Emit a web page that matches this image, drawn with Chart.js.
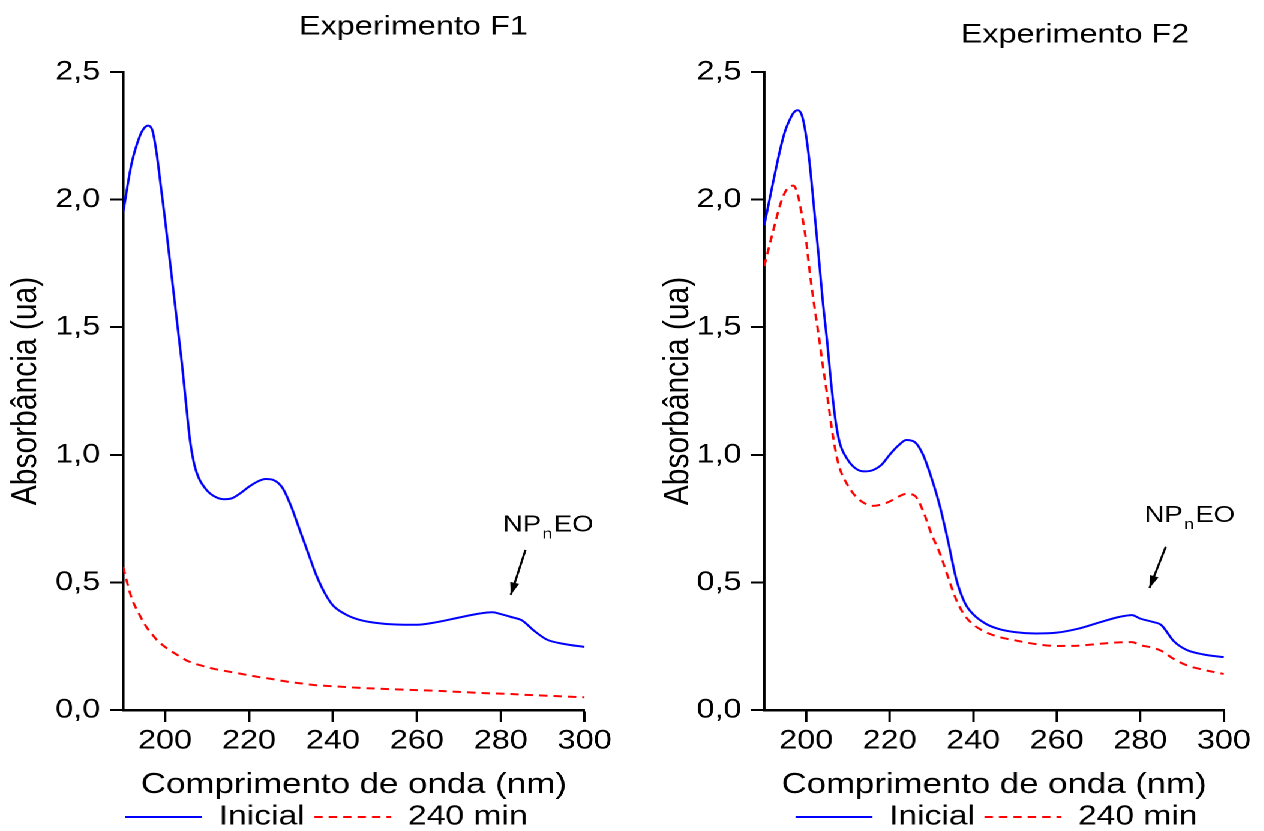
<!DOCTYPE html>
<html lang="pt">
<head>
<meta charset="utf-8">
<title>Espectros UV - Experimentos F1 e F2</title>
<script src="https://cdn.jsdelivr.net/npm/chart.js@4.4.1/dist/chart.umd.min.js"></script>
<style>
  html, body { margin: 0; padding: 0; background: #fff; overflow: hidden; }
  /* the source figure is stretched sideways, so the charts are drawn narrow and widened */
  #wrap { position: absolute; left: 0; top: 0; height: 831px; display: flex; transform-origin: 0 0; }
  .panel { position: relative; height: 831px; }
</style>
</head>
<body>
<div id="wrap">
  <div class="panel"><canvas id="f1"></canvas></div>
  <div class="panel"><canvas id="f2"></canvas></div>
</div>
<script>
const wavelengths = [190, 192, 194, 195, 196, 197, 198, 199, 200, 201, 202, 203, 204, 205, 206, 207, 208,
  210, 212, 214, 216, 218, 220, 222, 224, 226, 228, 230, 232, 234, 236, 238, 240,
  243, 246, 250, 255, 260, 265, 270, 275, 278, 280, 283, 285, 288, 291, 295, 300]

const f1Inicial = [1.95, 2.14, 2.25, 2.28, 2.29, 2.27, 2.18, 2.05, 1.92, 1.78, 1.64, 1.50, 1.36, 1.20, 1.05, 0.96, 0.91,
  0.86, 0.835, 0.826, 0.83, 0.85, 0.875, 0.895, 0.905, 0.90, 0.87, 0.80, 0.71, 0.62, 0.53, 0.46, 0.41,
  0.375, 0.355, 0.342, 0.335, 0.334, 0.345, 0.362, 0.378, 0.383, 0.376, 0.362, 0.352, 0.31, 0.276, 0.259, 0.247]
const f1Min240 = [0.56, 0.44, 0.37, 0.34, 0.315, 0.295, 0.275, 0.26, 0.247, 0.235, 0.225, 0.215, 0.205, 0.195, 0.188, 0.182, 0.177,
  0.168, 0.16, 0.154, 0.148, 0.142, 0.136, 0.13, 0.125, 0.12, 0.114, 0.109, 0.105, 0.101, 0.097, 0.095, 0.093,
  0.09, 0.087, 0.084, 0.081, 0.078, 0.075, 0.071, 0.067, 0.065, 0.064, 0.062, 0.06, 0.058, 0.056, 0.053, 0.05]

const f2Inicial = [1.90, 2.06, 2.21, 2.27, 2.31, 2.34, 2.35, 2.33, 2.25, 2.12, 1.95, 1.78, 1.60, 1.45, 1.28, 1.14, 1.05,
  0.98, 0.945, 0.935, 0.94, 0.96, 1.0, 1.035, 1.058, 1.05, 1.0, 0.91, 0.80, 0.66, 0.51, 0.42, 0.375,
  0.338, 0.318, 0.305, 0.30, 0.303, 0.318, 0.342, 0.365, 0.372, 0.358, 0.345, 0.333, 0.27, 0.236, 0.218, 0.207]
const f2Min240 = [1.74, 1.87, 1.99, 2.03, 2.05, 2.055, 2.02, 1.94, 1.84, 1.70, 1.58, 1.47, 1.35, 1.24, 1.12, 1.02, 0.95,
  0.88, 0.835, 0.81, 0.80, 0.805, 0.817, 0.835, 0.847, 0.84, 0.78, 0.69, 0.615, 0.52, 0.43, 0.37, 0.335,
  0.305, 0.287, 0.273, 0.258, 0.251, 0.252, 0.259, 0.265, 0.266, 0.254, 0.244, 0.232, 0.2, 0.176, 0.158, 0.141]

const seriesNames = ['Inicial', '240 min']
const xTicks = [200, 220, 240, 260, 280, 300]
const yTicks = [0, 0.5, 1, 1.5, 2, 2.5]

const SX = 1.2
const PANEL_W = 632 / SX
const FONT = '"Liberation Sans", Arial, Helvetica, sans-serif'

document.getElementById('wrap').style.width = (2 * PANEL_W) + 'px'
document.getElementById('wrap').style.transform = 'scaleX(' + SX + ')'
document.querySelectorAll('.panel').forEach(p => { p.style.width = PANEL_W + 'px' })

Chart.defaults.font.family = FONT
Chart.defaults.color = '#000'

// moves title and legend to where the figure has them
const placeBoxes = {
  id: 'placeBoxes',
  afterLayout (chart, args, o) {
    const move = (box, cx, top) => {
      if (!box) return
      const dx = cx - (box.left + box.right) / 2
      box.left += dx
      box.right += dx
      if (top != null) {
        const dy = top - box.top
        box.top += dy
        box.bottom += dy
      }
    }
    move(chart.titleBlock, o.titleX)
    move(chart.legend, o.legendX, o.legendTop)
  }
}

// NPnEO label with its arrow
const marker = {
  id: 'marker',
  afterDatasetsDraw (chart, args, o) {
    const { ctx, scales: { x, y } } = chart
    const tx = x.getPixelForValue(o.text[0])
    const ty = y.getPixelForValue(o.text[1])
    ctx.save()
    ctx.fillStyle = '#000'
    ctx.textAlign = 'left'
    ctx.textBaseline = 'alphabetic'
    ctx.font = '23px ' + FONT
    ctx.fillText('NP', tx, ty)
    let w = ctx.measureText('NP').width + 1
    ctx.font = '15px ' + FONT
    ctx.fillText('n', tx + w, ty + 7)
    w += ctx.measureText('n').width + 1
    ctx.font = '23px ' + FONT
    ctx.fillText('EO', tx + w, ty)

    const x0 = x.getPixelForValue(o.from[0])
    const y0 = y.getPixelForValue(o.from[1])
    const x1 = x.getPixelForValue(o.to[0])
    const y1 = y.getPixelForValue(o.to[1])
    ctx.strokeStyle = '#000'
    ctx.lineWidth = 1.8
    ctx.beginPath()
    ctx.moveTo(x0, y0)
    ctx.lineTo(x1, y1)
    ctx.stroke()
    const a = Math.atan2(y1 - y0, x1 - x0)
    const L = 13
    ctx.beginPath()
    ctx.moveTo(x1, y1)
    ctx.lineTo(x1 - L * Math.cos(a - 0.3), y1 - L * Math.sin(a - 0.3))
    ctx.lineTo(x1 - L * Math.cos(a + 0.3), y1 - L * Math.sin(a + 0.3))
    ctx.closePath()
    ctx.fill()
    ctx.restore()
  }
}

function points (ys) {
  return wavelengths.map((w, i) => ({ x: w, y: ys[i] }))
}

// legend entries drawn as short line samples, dashed like their series
function lineLabels (chart) {
  return Chart.defaults.plugins.legend.labels.generateLabels(chart).map(item => {
    const ds = chart.data.datasets[item.datasetIndex]
    return { ...item, strokeStyle: ds.borderColor, lineWidth: ds.borderWidth, lineDash: ds.borderDash || [] }
  })
}

// p holds page positions (px) taken from the figure
function makeChart (id, title, inicial, min240, p) {
  const inner = v => (v - p.offset) / SX
  const left = inner(p.left)
  const padRight = PANEL_W - inner(p.right)
  const titleTop = p.titleY - 16.2

  return new Chart(document.getElementById(id), {
    type: 'line',
    data: {
      datasets: [
        {
          label: seriesNames[0],
          data: points(inicial),
          borderColor: '#0000ff',
          borderWidth: 2,
          pointRadius: 0,
          cubicInterpolationMode: 'monotone'
        },
        {
          label: seriesNames[1],
          data: points(min240),
          borderColor: '#ff0000',
          borderWidth: 2,
          borderDash: [7, 5],
          pointRadius: 0,
          cubicInterpolationMode: 'monotone'
        }
      ]
    },
    options: {
      responsive: true,
      maintainAspectRatio: false,
      animation: false,
      devicePixelRatio: 2,
      layout: { padding: { left: 0, right: padRight, top: 0, bottom: 0 } },
      scales: {
        x: {
          type: 'linear',
          min: 190,
          max: 300,
          afterBuildTicks: s => { s.ticks = xTicks.map(v => ({ value: v })) },
          afterFit: s => { s.height = 75 },
          grid: { drawOnChartArea: false, tickLength: 12, tickColor: '#000', tickWidth: 2 },
          border: { color: '#000', width: 2.5 },
          ticks: { font: { size: 27 }, color: '#000', padding: 3, maxRotation: 0 },
          title: {
            display: true,
            text: 'Comprimento de onda (nm)',
            font: { size: 29 },
            color: '#000',
            padding: { top: 0, bottom: -17.4 }
          }
        },
        y: {
          min: 0,
          max: 2.5,
          afterBuildTicks: s => { s.ticks = yTicks.map(v => ({ value: v })) },
          afterFit: s => { s.width = left },
          grid: { drawOnChartArea: false, tickLength: 11, tickColor: '#000', tickWidth: 2 },
          border: { color: '#000', width: 2.2 },
          ticks: {
            font: { size: 27 },
            color: '#000',
            padding: 8,
            callback: v => v.toFixed(1).replace('.', ',')
          },
          title: {
            display: true,
            text: 'Absorbância (ua)',
            font: { size: 30 },
            color: '#000',
            padding: { top: inner(p.yTitleX) - 18, bottom: 0 }
          }
        }
      },
      plugins: {
        title: {
          display: true,
          text: title,
          color: '#000',
          font: { size: 27, weight: 'normal' },
          padding: { top: titleTop, bottom: 72 - 32.4 - titleTop }
        },
        legend: {
          position: 'bottom',
          labels: {
            usePointStyle: true,
            pointStyle: 'line',
            pointStyleWidth: 64,
            font: { size: 28 },
            color: '#000',
            padding: 8,
            generateLabels: lineLabels
          }
        },
        tooltip: { enabled: false },
        placeBoxes: { titleX: inner(p.titleX), legendX: inner(p.legendX), legendTop: 817 - 8 - 14 },
        marker: p.marker
      }
    },
    plugins: [placeBoxes, marker]
  })
}

makeChart('f1', 'Experimento F1', f1Inicial, f1Min240, {
  offset: 0, left: 123, right: 584, titleX: 413, titleY: 27, legendX: 326, yTitleX: 26,
  marker: { text: [280.5, 0.70], from: [285.9, 0.627], to: [282.4, 0.451] }
})

makeChart('f2', 'Experimento F2', f2Inicial, f2Min240, {
  offset: 632, left: 764, right: 1224, titleX: 1075, titleY: 35, legendX: 996.5, yTitleX: 678,
  marker: { text: [281, 0.737], from: [286.1, 0.64], to: [282.2, 0.478] }
})
</script>
</body>
</html>
